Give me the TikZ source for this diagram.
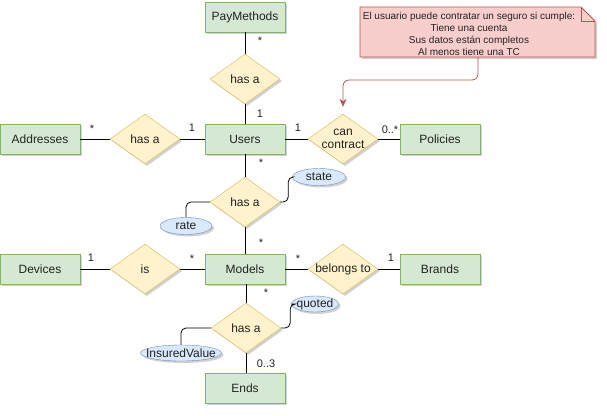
\documentclass[tikz,border=0pt]{standalone}
\usepackage{fontspec}
\setmainfont{Liberation Sans}
\usetikzlibrary{shapes.geometric,shadows,arrows.meta}
\definecolor{entF}{HTML}{D5E8D4}
\definecolor{entD}{HTML}{82B366}
\definecolor{relF}{HTML}{FFF2CC}
\definecolor{relD}{HTML}{D6B656}
\definecolor{attF}{HTML}{DAE8FC}
\definecolor{attD}{HTML}{6C8EBF}
\definecolor{noteF}{HTML}{F8CECC}
\definecolor{noteD}{HTML}{B85450}
\definecolor{txt}{HTML}{222222}
\begin{document}
\begin{tikzpicture}[x=1pt,y=-1pt,
  shad/.style={drop shadow={shadow xshift=2pt,shadow yshift=-2pt,opacity=0.18,fill=black}},
  lbl/.style={font=\fontsize{12}{13.5}\selectfont,align=center,text=txt,inner sep=0pt},
  ent/.style={draw=entD,fill=entF,minimum width=80pt,minimum height=30pt,inner sep=0pt,
    font=\fontsize{12}{14}\selectfont,text=txt,shad},
  rel/.style={diamond,aspect=1.4,draw=relD,fill=relF,minimum width=70pt,minimum height=50pt,
    inner sep=0pt,shad,label={[lbl]center:#1}},
  attr/.style={ellipse,draw=attD,fill=attF,inner sep=0pt,minimum height=17pt,shad,
    label={[lbl]center:#1}},
  card/.style={font=\fontsize{11}{13}\selectfont,inner sep=0pt,text=txt},
  conn/.style={draw=black,line width=0.8pt},
  curv/.style={conn,rounded corners=5pt}
]
\useasboundingbox (0,0) rectangle (607,415);

% entities
\node[ent] (pm) at (245,17) {PayMethods};
\node[ent] (us) at (245,139) {Users};
\node[ent] (ad) at (40,139) {Addresses};
\node[ent] (po) at (440,139) {Policies};
\node[ent] (de) at (40,269) {Devices};
\node[ent] (mo) at (245,269) {Models};
\node[ent] (br) at (440,269) {Brands};
\node[ent] (en) at (245,388) {Ends};

% relationships
\node[rel={has a}] (r1) at (245,79) {};
\node[rel={has a}] (r2) at (145,139) {};
\node[rel={can\\contract}] (r4) at (343,139) {};
\node[rel={has a}] (r3) at (245,202) {};
\node[rel={is}] (r6) at (145,269) {};
\node[rel={belongs to}] (r7) at (343,269) {};
\node[rel={has a}] (r5) at (246,328) {};

% attributes
\node[attr={state},minimum width=53pt] (st) at (319,177) {};
\node[attr={rate},minimum width=52pt] (ra) at (186,226) {};
\node[attr={quoted},minimum width=47pt,minimum height=16pt] (qu) at (315,304) {};
\node[attr={InsuredValue},minimum width=81pt,minimum height=16pt] (iv) at (181,353) {};

% note
\coordinate (nA) at (360,7);
\coordinate (nB) at (581,7);
\coordinate (nC) at (595,21);
\coordinate (nD) at (595,57);
\coordinate (nE) at (360,57);
\fill[black,opacity=0.18] ([shift={(2,2)}]nA) -- ([shift={(2,2)}]nB) -- ([shift={(2,2)}]nC) -- ([shift={(2,2)}]nD) -- ([shift={(2,2)}]nE) -- cycle;
\draw[draw=noteD,fill=noteF,line width=0.8pt] (nA) -- (nB) -- (nC) -- (nD) -- (nE) -- cycle;
\draw[draw=noteD,line width=0.8pt] (nB) -- (nB |- nC) -- (nC);
\node[font=\fontsize{10}{11.8}\selectfont,align=center,text=txt,inner sep=0pt] (nt) at (469,34)
  {El usuario puede contratar un seguro si cumple:\\Tiene una cuenta\\Sus datos están completos\\Al menos tiene una TC};
\coordinate (ns) at (478,57);
\draw[draw=noteD,line width=0.8pt,rounded corners=6pt,-{Stealth[length=8pt,width=7pt]},shorten >=7pt]
  (ns) -- ++(0,23) -| (r4.north);

% connectors
\draw[conn] (pm) -- (r1);
\draw[conn] (r1) -- (us);
\draw[conn] (ad) -- (r2);
\draw[conn] (r2) -- (us);
\draw[conn] (us) -- (r4);
\draw[conn] (r4) -- (po);
\draw[conn] (us) -- (r3);
\draw[conn] (r3) -- (mo);
\draw[conn] (de) -- (r6);
\draw[conn] (r6) -- (mo);
\draw[conn] (mo) -- (r7);
\draw[conn] (r7) -- (br);
\draw[conn] (mo.south -| r5.north) -- (r5);
\draw[conn] (r5) -- (en.north -| r5.south);
\draw[curv] (r3.west) -| (ra.north);
\draw[curv] (r3.east) -- ++(8,0) |- (st.west);
\draw[curv] (r5.east) -- ++(9,0) |- (qu.west);
\draw[curv] (r5.west) -| (iv.north);

% cardinalities
\node[card] (c1) at (260,41) {*};
\node[card] (c2) at (260,114) {1};
\node[card] (c3) at (92,129) {*};
\node[card] (c4) at (192,128) {1};
\node[card] (c5) at (298,128) {1};
\node[card] (c6) at (390,130) {0..*};
\node[card] (c7) at (261,163) {*};
\node[card] (c8) at (261,243) {*};
\node[card] (c9) at (91,258) {1};
\node[card] (c10) at (192,259) {*};
\node[card] (c11) at (298,259) {*};
\node[card] (c12) at (391,258) {1};
\node[card] (c13) at (266,293) {*};
\node[card] (c14) at (266,364) {0..3};
\end{tikzpicture}
\end{document}
